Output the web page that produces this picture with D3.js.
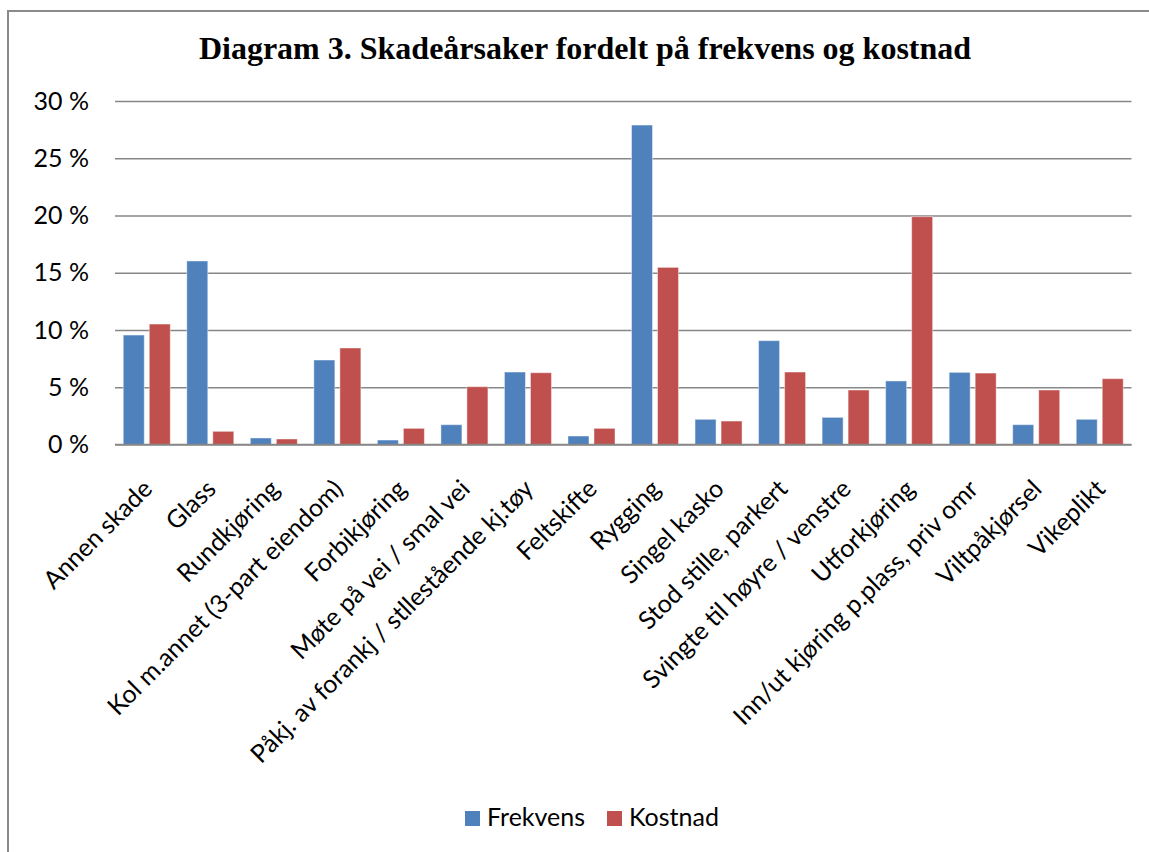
<!DOCTYPE html>
<html>
<head>
<script src="https://d3js.org/d3.v7.min.js"></script>
<style>
body { margin: 0; background: white; }
text { font-family: Lato, "Open Sans", sans-serif; fill: #000; }
.title { font-family: "Liberation Serif", "Times New Roman", serif; font-weight: bold; }
</style>
</head>
<body>
<svg width="1149" height="852"></svg>
<script>
var categories = ["Annen skade", "Glass", "Rundkjøring", "Kol m.annet (3-part eiendom)", "Forbikjøring",
  "Møte på vei / smal vei", "Påkj. av forankj / stllestående kj.tøy", "Feltskifte", "Rygging", "Singel kasko",
  "Stod stille, parkert", "Svingte til høyre / venstre", "Utforkjøring", "Inn/ut kjøring p.plass, priv omr",
  "Viltpåkjørsel", "Vikeplikt"];
var frekvens = [9.56, 16.03, 0.57, 7.38, 0.39, 1.73, 6.33, 0.74, 27.9, 2.2, 9.07, 2.37, 5.55, 6.3, 1.73, 2.2];
var kostnad = [10.52, 1.15, 0.48, 8.43, 1.41, 5.05, 6.27, 1.41, 15.47, 2.05, 6.33, 4.76, 19.9, 6.24, 4.76, 5.75];
var seriesNames = ["Frekvens", "Kostnad"];
var yTicks = [0, 5, 10, 15, 20, 25, 30];
var colors = ["#4F81BD", "#C0504D"];

var svg = d3.select("svg");

// outer frame
svg.append("rect")
  .attr("x", 8).attr("y", 11)
  .attr("width", 1200).attr("height", 900)
  .attr("fill", "white")
  .attr("stroke", "#8a8a8a")
  .attr("stroke-width", 2);

svg.append("text")
  .attr("class", "title")
  .attr("x", 585).attr("y", 59)
  .attr("text-anchor", "middle")
  .style("font-size", "32px")
  .text("Diagram 3. Skadeårsaker fordelt på frekvens og kostnad");

var plotLeft = 115, plotRight = 1131.5, plotTop = 101, plotBottom = 444.5;

var x = d3.scaleBand().domain(categories).range([plotLeft, plotRight]);
var x1 = d3.scaleBand().domain(seriesNames).range([0, x.bandwidth()])
  .paddingInner(0.1923).paddingOuter(0.3173);
var y = d3.scaleLinear().domain([0, 30]).range([plotBottom, plotTop]);

// gridlines + y labels
var yAxis = svg.append("g")
  .attr("transform", "translate(" + plotLeft + ",0)")
  .call(d3.axisLeft(y)
    .tickValues(yTicks)
    .tickSize(-(plotRight - plotLeft))
    .tickPadding(26)
    .tickFormat(function(d) { return d + " %"; }));
yAxis.select(".domain").remove();
yAxis.selectAll("line").attr("stroke", "#878787").attr("stroke-width", 1.6);
yAxis.selectAll("text")
  .style("font-size", "25px")
  .style("font-family", "Lato, sans-serif")
  .attr("fill", "#000");

// bars
var series = seriesNames.map(function(name, i) {
  return { name: name, values: i == 0 ? frekvens : kostnad, color: colors[i] };
});

svg.append("g").selectAll("g").data(series).enter().append("g")
  .attr("fill", function(d) { return d.color; })
  .selectAll("rect")
  .data(function(d) { return d.values.map(function(v, j) { return { name: d.name, cat: categories[j], v: v }; }); })
  .enter().append("rect")
  .attr("x", function(d) { return x(d.cat) + x1(d.name); })
  .attr("y", function(d) { return y(d.v); })
  .attr("width", x1.bandwidth())
  .attr("height", function(d) { return y(0) - y(d.v); })
  .attr("stroke", "rgba(255,255,255,0.45)")
  .attr("stroke-width", 1);

// baseline
svg.append("line")
  .attr("x1", plotLeft).attr("x2", plotRight)
  .attr("y1", y(0)).attr("y2", y(0))
  .attr("stroke", "#878787").attr("stroke-width", 1.6);

// x labels
var xAxis = svg.append("g")
  .attr("transform", "translate(0," + plotBottom + ")")
  .call(d3.axisBottom(x).tickSize(0));
xAxis.select(".domain").remove();
xAxis.selectAll("text")
  .attr("x", 0).attr("y", 0).attr("dy", 0)
  .attr("transform", "translate(7,46) rotate(-45)")
  .style("text-anchor", "end")
  .style("font-size", "25px")
  .style("font-family", "Lato, sans-serif")
  .attr("fill", "#000");

// legend
var legend = svg.append("g").selectAll("g").data(series).enter().append("g")
  .attr("transform", function(d, i) { return "translate(" + (465 + i * 142) + ",811)"; });
legend.append("rect")
  .attr("width", 15).attr("height", 15)
  .attr("fill", function(d) { return d.color; });
legend.append("text")
  .attr("x", 22).attr("y", 15)
  .style("font-size", "25px")
  .text(function(d) { return d.name; });
</script>
</body>
</html>
